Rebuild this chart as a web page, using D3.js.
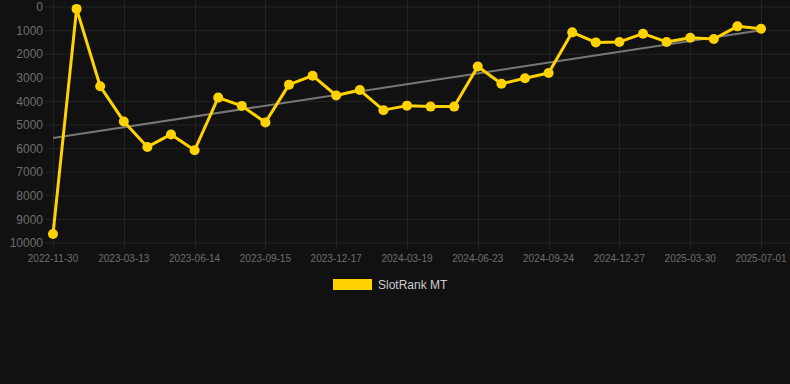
<!DOCTYPE html>
<html><head><meta charset="utf-8">
<script src="https://cdn.jsdelivr.net/npm/d3@7"></script>
<style>
html,body{margin:0;padding:0;background:#111111;}
svg{display:block;font-family:"Liberation Sans",Arial,Helvetica,sans-serif;}
</style></head>
<body>
<svg id="c" width="790" height="384"></svg>
<script>
const dates = ["2022-11-30","2023-01-03","2023-02-07","2023-03-13","2023-04-13","2023-05-14","2023-06-14","2023-07-15","2023-08-15","2023-09-15","2023-10-16","2023-11-16","2023-12-17","2024-01-17","2024-02-17","2024-03-19","2024-04-19","2024-05-21","2024-06-23","2024-07-24","2024-08-24","2024-09-24","2024-10-25","2024-11-26","2024-12-27","2025-01-27","2025-02-27","2025-03-30","2025-04-30","2025-05-31","2025-07-01"];
const ranks = [9620,80,3360,4850,5930,5400,6070,3840,4190,4890,3290,2910,3750,3520,4370,4180,4220,4220,2520,3250,3020,2800,1075,1500,1480,1130,1480,1300,1355,820,920];
const yTicks = [0,1000,2000,3000,4000,5000,6000,7000,8000,9000,10000];
const xTickLabels = ["2022-11-30","2023-03-13","2023-06-14","2023-09-15","2023-12-17","2024-03-19","2024-06-23","2024-09-24","2024-12-27","2025-03-30","2025-07-01"];
const seriesName = "SlotRank MT";

const svg = d3.select("#c");
const x = d3.scalePoint().domain(dates).range([53, 761]);
const y = d3.scaleLinear().domain([0, 10000]).range([7, 243]);
const gridColor = "#242424";

// horizontal grid
svg.append("g").selectAll("line").data(yTicks).join("line")
  .attr("x1", 45).attr("x2", 790)
  .attr("y1", d => y(d)).attr("y2", d => y(d))
  .attr("stroke", gridColor).attr("stroke-width", 1);
// vertical grid
svg.append("g").selectAll("line").data(xTickLabels).join("line")
  .attr("x1", d => Math.round(x(d)) + 0.5).attr("x2", d => Math.round(x(d)) + 0.5)
  .attr("y1", 0).attr("y2", 249)
  .attr("stroke", gridColor).attr("stroke-width", 1);

// y labels
svg.append("g").selectAll("text").data(yTicks).join("text")
  .attr("x", 43).attr("y", d => y(d)).attr("dy", "0.35em")
  .attr("text-anchor", "end").attr("fill", "#6e6e6e").attr("font-size", 12)
  .text(d => d);
// x labels
svg.append("g").selectAll("text").data(xTickLabels).join("text")
  .attr("x", d => x(d)).attr("y", 262)
  .attr("text-anchor", "middle").attr("fill", "#6e6e6e").attr("font-size", 10)
  .text(d => d);

// trend line (least squares)
const n = ranks.length;
const idx = d3.range(n);
const mx = d3.mean(idx), my = d3.mean(ranks);
const slope = d3.sum(idx, i => (i - mx) * (ranks[i] - my)) / d3.sum(idx, i => (i - mx) ** 2);
const icpt = my - slope * mx;
svg.append("line")
  .attr("x1", x(dates[0])).attr("y1", y(icpt))
  .attr("x2", x(dates[n - 1])).attr("y2", y(icpt + slope * (n - 1)))
  .attr("stroke", "#777777").attr("stroke-width", 2);

// series line
const color = "#FFD200";
const line = d3.line().x((d, i) => x(dates[i])).y(d => y(d));
svg.append("path").datum(ranks).attr("d", line)
  .attr("fill", "none").attr("stroke", color).attr("stroke-width", 3)
  .attr("stroke-linejoin", "round");
svg.append("g").selectAll("circle").data(ranks).join("circle")
  .attr("cx", (d, i) => x(dates[i])).attr("cy", d => y(d)).attr("r", 5)
  .attr("fill", color);

// legend
svg.append("rect").attr("x", 333).attr("y", 279).attr("width", 39).attr("height", 11).attr("fill", color);
svg.append("text").attr("x", 378).attr("y", 289).attr("fill", "#cccccc").attr("font-size", 12).text(seriesName);
</script>
</body></html>
